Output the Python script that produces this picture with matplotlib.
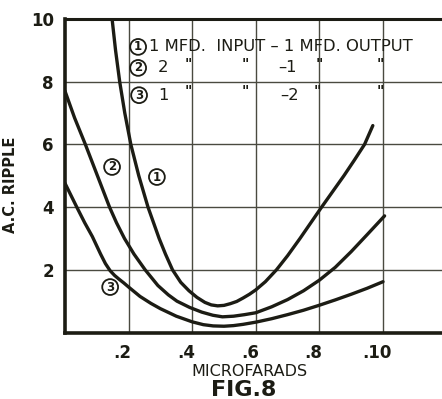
import matplotlib
matplotlib.use("Agg")
import matplotlib.pyplot as plt
from matplotlib.transforms import ScaledTranslation

# ---- data ----
x1 = [0.147, 0.159, 0.172, 0.188, 0.207, 0.232, 0.261, 0.296, 0.316, 0.338, 0.364, 0.390,
      0.415, 0.440, 0.460, 0.480, 0.500, 0.520, 0.540, 0.560, 0.580, 0.600, 0.630, 0.665,
      0.700, 0.739, 0.773, 0.807, 0.842, 0.877, 0.910, 0.942, 0.968]
y1 = [10.1, 9.0, 8.0, 7.0, 6.0, 5.0, 4.0, 3.0, 2.5, 2.0, 1.6, 1.33,
      1.12, 0.96, 0.88, 0.85, 0.865, 0.92, 0.99, 1.10, 1.22, 1.36, 1.62, 2.0,
      2.45, 3.0, 3.5, 4.0, 4.5, 5.0, 5.5, 6.0, 6.6]

x2 = [0.0, 0.030, 0.064, 0.102, 0.140, 0.162, 0.187, 0.217, 0.252, 0.292, 0.325, 0.352,
      0.392, 0.430, 0.465, 0.495, 0.530, 0.565, 0.600, 0.650, 0.700, 0.750, 0.800, 0.850,
      0.900, 0.950, 1.005]
y2 = [7.7, 6.85, 6.0, 5.0, 4.0, 3.5, 3.0, 2.5, 2.0, 1.5, 1.2, 1.0,
      0.8, 0.65, 0.55, 0.50, 0.52, 0.57, 0.63, 0.82, 1.05, 1.33, 1.67, 2.08,
      2.58, 3.12, 3.72]

x3 = [0.0, 0.037, 0.062, 0.086, 0.112, 0.127, 0.142, 0.156, 0.170, 0.185, 0.200, 0.236,
      0.270, 0.300, 0.350, 0.400, 0.435, 0.466, 0.500, 0.530, 0.560, 0.600, 0.650, 0.700,
      0.750, 0.800, 0.850, 0.900, 0.950, 1.000]
y3 = [4.76, 4.0, 3.5, 3.06, 2.5, 2.2, 1.97, 1.82, 1.70, 1.58, 1.45, 1.15,
      0.93, 0.76, 0.52, 0.34, 0.25, 0.21, 0.20, 0.22, 0.26, 0.33, 0.44, 0.57,
      0.71, 0.87, 1.04, 1.22, 1.41, 1.62]

xticks = [0.2, 0.4, 0.6, 0.8, 1.0]
xticklabels = ['.2', '.4', '.6', '.8', '.10']
yticks = [2, 4, 6, 8, 10]
yticklabels = ['2', '4', '6', '8', '10']

curve_labels = ['1', '2', '3']
curve_label_pos = [(0.289, 4.96), (0.148, 5.28), (0.142, 1.45)]

legend_circle_pos = [(0.230, 9.11), (0.230, 8.44), (0.233, 7.57)]
legend_row1 = "1 MFD.  INPUT \u2013 1 MFD. OUTPUT"
legend_row_items = [
    [("2", 0.308), ('"', 0.387), ('"', 0.566), ("\u20131", 0.700), ('"', 0.800), ('"', 0.990)],
    [("1", 0.308), ('"', 0.387), ('"', 0.566), ("\u20132", 0.705), ('"', 0.795), ('"', 0.990)],
]

ink = '#1c1c14'
gridc = '#4a4a40'

fig = plt.figure(figsize=(4.42, 3.99), dpi=100)
fig.patch.set_facecolor('white')
ax = fig.add_axes([65/442, 1-332.5/399, 1.2*318/442, 313.5/399])
ax.set_xlim(0, 1.2)
ax.set_ylim(0, 10)

ax.set_xticks(xticks)
ax.set_xticklabels(xticklabels, fontsize=12, fontweight='bold', color=ink)
ax.set_yticks(yticks)
ax.set_yticklabels(yticklabels, fontsize=12, fontweight='bold', color=ink)
ax.tick_params(length=0)
ax.tick_params(axis='x', pad=8)
ax.tick_params(axis='y', pad=8)
off = ScaledTranslation(-6/100, 0, fig.dpi_scale_trans)
for lab in ax.get_xticklabels():
    lab.set_transform(lab.get_transform() + off)

ax.grid(True, color=gridc, lw=1.0)
ax.set_axisbelow(True)
for s in ['left', 'bottom', 'top']:
    ax.spines[s].set_color(ink)
ax.spines['left'].set_linewidth(2.6)
ax.spines['bottom'].set_linewidth(2.6)
ax.spines['top'].set_linewidth(2.2)
ax.spines['right'].set_visible(False)

for xs, ys in [(x1, y1), (x2, y2), (x3, y3)]:
    ax.plot(xs, ys, color=ink, lw=2.4, solid_capstyle='round', solid_joinstyle='round', zorder=3)

circ = dict(boxstyle='circle,pad=0.12', fc='white', ec=ink, lw=1.3)
for lab, (cx, cy) in zip(curve_labels, curve_label_pos):
    ax.text(cx, cy, lab, ha='center', va='center', fontsize=8.5, fontweight='bold',
            color=ink, bbox=circ, zorder=4)
for lab, (cx, cy) in zip(curve_labels, legend_circle_pos):
    ax.text(cx, cy, lab, ha='center', va='center', fontsize=8.5, fontweight='bold',
            color=ink, bbox=circ, zorder=4)

ax.text(0.265, legend_circle_pos[0][1], legend_row1, ha='left', va='center',
        fontsize=11.8, color=ink, zorder=4)
for row, (_, cy) in zip(legend_row_items, legend_circle_pos[1:]):
    for txt, tx in row:
        ax.text(tx, cy + (0.12 if txt == '"' else 0), txt, ha='center', va='center',
                fontsize=11.8 if txt != '"' else 10, fontweight='bold' if txt == '"' else 'normal',
                color=ink, zorder=4)

ax.set_ylabel("A.C. RIPPLE", fontsize=10.5, fontweight='bold', color=ink)
ax.yaxis.set_label_coords(-0.123, 0.47)
fig.text(249/442, 1-371/399, "MICROFARADS", ha='center', va='center', fontsize=11.5,
         color=ink)
fig.text(244/442, 1-390/399, "FIG.8", ha='center', va='center', fontsize=16,
         fontweight='bold', color=ink)

fig.savefig("out.png", dpi=100, facecolor='white')
